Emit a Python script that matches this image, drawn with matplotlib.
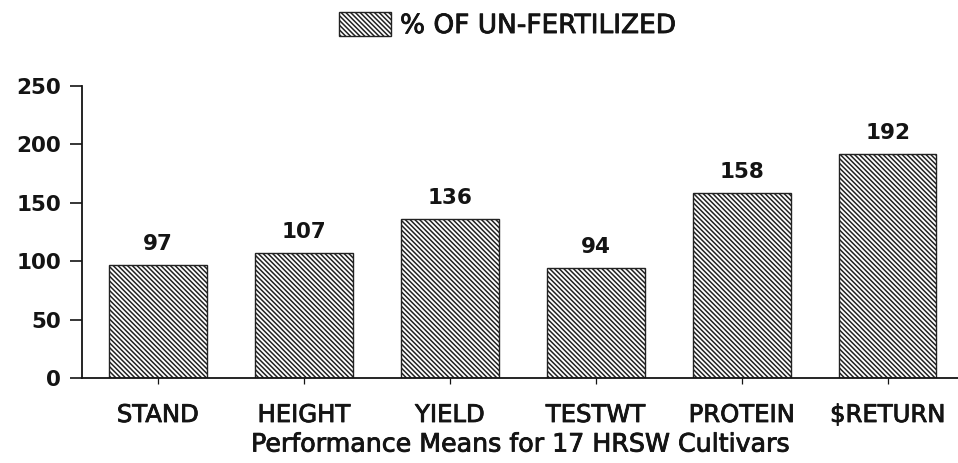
import matplotlib.pyplot as plt
import matplotlib.patheffects as pe
from matplotlib.patches import Patch

plt.rcParams["font.family"] = ["DejaVu Sans"]
plt.rcParams["hatch.linewidth"] = 1.1
plt.rcParams["hatch.color"] = "#222222"

categories = ["STAND", "HEIGHT", "YIELD", "TESTWT", "PROTEIN", "$RETURN"]
pct_unfert = [97, 107, 136, 94, 158, 192]
yticks = [0, 50, 100, 150, 200, 250]

ink = "#141414"
thick = [pe.withStroke(linewidth=0.6, foreground=ink)]
HATCH = "\\\\\\\\\\\\\\"

fig = plt.figure(figsize=(9.58, 4.63), dpi=100)
ax = fig.add_axes([0.0856, 0.1836, 0.914, 0.6306])

x = list(range(len(categories)))
ax.bar(x, pct_unfert, width=0.67, color="white", edgecolor="#222222",
       hatch=HATCH, linewidth=1.0)

for xi, v in zip(x, pct_unfert):
    ax.annotate(str(v), (xi, v), xytext=(0, 8), textcoords="offset points",
                ha="center", va="bottom", fontsize=15.5, fontweight="bold",
                color=ink)

ax.set_xlim(-0.52, 5.48)
ax.set_ylim(0, 250)
ax.set_yticks(yticks)
ax.set_xticks(x)
ax.set_xticklabels(categories)
ax.tick_params(axis="y", length=9, width=1.2, labelsize=15.5, pad=6, colors=ink)
ax.tick_params(axis="x", length=4, width=0.9, labelsize=17.5, pad=14, colors=ink)
for lbl in ax.get_yticklabels():
    lbl.set_fontweight("bold")
for lbl in ax.get_xticklabels():
    lbl.set_path_effects(thick)

ax.spines["top"].set_visible(False)
ax.spines["right"].set_visible(False)
ax.spines["left"].set_linewidth(1.3)
ax.spines["bottom"].set_linewidth(1.3)
ax.spines["left"].set_color(ink)
ax.spines["bottom"].set_color(ink)

xl = ax.set_xlabel("Performance Means for 17 HRSW Cultivars", fontsize=18.2,
                   color=ink, labelpad=4)
xl.set_path_effects(thick)

handle = Patch(facecolor="white", edgecolor="#222222", hatch=HATCH,
               label="% OF UN-FERTILIZED")
leg = fig.legend(handles=[handle], loc="upper center", bbox_to_anchor=(0.53, 1.025),
                 frameon=False, handlelength=1.95, handleheight=1.0,
                 handletextpad=0.35, prop={"size": 19})
for t in leg.get_texts():
    t.set_color(ink)
    t.set_path_effects(thick)

fig.savefig("out.png", dpi=100)
